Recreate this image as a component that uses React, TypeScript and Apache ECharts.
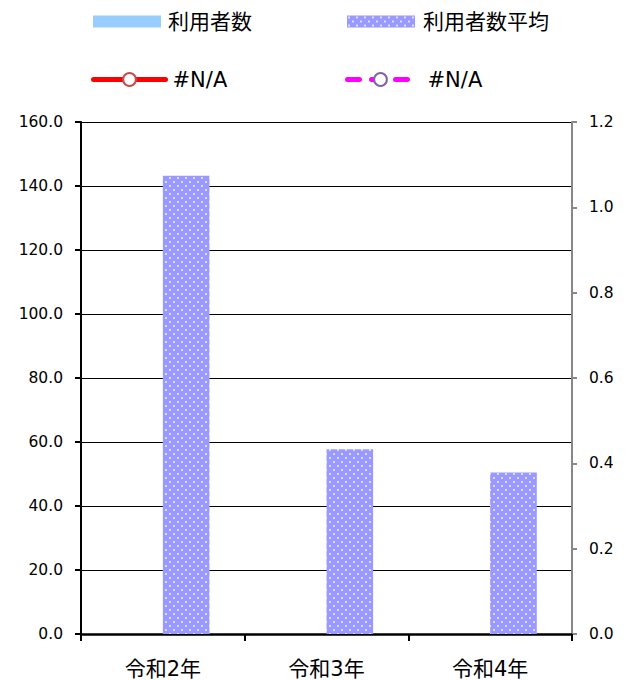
import React, { useEffect, useRef } from "react";
import * as echarts from "echarts";

const categories = ["令和2年", "令和3年", "令和4年"];
const usersValues: (number | null)[] = [null, null, null];
const usersAvgValues = [143.2, 57.7, 50.5];
const naValues1: (number | null)[] = [null, null, null];
const naValues2: (number | null)[] = [null, null, null];
const leftTicks = { min: 0, max: 160, interval: 20 };
const rightTicks = { min: 0, max: 1.2, interval: 0.2 };

const dotSvg =
  "data:image/svg+xml;utf8," +
  encodeURIComponent(
    '<svg xmlns="http://www.w3.org/2000/svg" width="8" height="8">' +
      '<rect width="8" height="8" fill="#9999FF"/>' +
      '<rect x="1" y="1" width="2" height="2" fill="#D0D0FF"/>' +
      '<rect x="1.5" y="1.5" width="1" height="1" fill="#FFFFFF"/>' +
      '<rect x="5" y="5" width="2" height="2" fill="#D0D0FF"/>' +
      '<rect x="5.5" y="5.5" width="1" height="1" fill="#FFFFFF"/>' +
      "</svg>"
  );

const FONT = "'DejaVu Sans', 'Noto Sans CJK JP', sans-serif";

export default function App() {
  const ref = useRef<HTMLDivElement>(null);
  useEffect(() => {
    if (!ref.current) return;
    const chart = echarts.init(ref.current, null, { renderer: "svg" });
    const pattern: any = {
      image: dotSvg,
      repeat: "repeat",
      imageWidth: 8,
      imageHeight: 8,
    };
    const legendText = (pad: number) => ({
      fontSize: 21,
      color: "#000",
      fontFamily: FONT,
      padding: [0, 0, 0, pad],
    });
    const nameFmt = (n: string) => (n.startsWith("na") ? "#N/A" : n);
    chart.setOption({
      animation: false,
      backgroundColor: "#fff",
      legend: [
        {
          data: [{ name: "利用者数", icon: "rect" }],
          left: 93,
          top: 11,
          padding: 0,
          itemWidth: 68,
          itemHeight: 12,
          textStyle: legendText(2),
          formatter: nameFmt,
        },
        {
          data: [{ name: "利用者数平均", icon: "rect" }],
          left: 347,
          top: 11,
          padding: 0,
          itemWidth: 68,
          itemHeight: 12,
          textStyle: legendText(3),
          formatter: nameFmt,
        },
        {
          data: ["na1"],
          left: 91,
          top: 69,
          padding: 0,
          itemWidth: 72,
          itemHeight: 16,
          lineStyle: { width: 5, color: "#FF0000", cap: "round" },
          textStyle: legendText(2),
          formatter: nameFmt,
        },
        {
          data: ["na2"],
          left: 345,
          top: 69,
          padding: 0,
          itemWidth: 66,
          itemHeight: 16,
          lineStyle: { width: 5, color: "#FF00FF", type: [12, 12], cap: "round" },
          textStyle: legendText(9),
          formatter: nameFmt,
        },
      ],
      grid: { left: 81, right: 60, top: 122, bottom: 46, containLabel: false },
      xAxis: {
        type: "category",
        data: categories,
        boundaryGap: true,
        axisLine: { lineStyle: { color: "#000", width: 2.5 } },
        axisTick: { show: true, length: 7, lineStyle: { color: "#000", width: 2 } },
        axisLabel: { fontSize: 21, color: "#000", fontFamily: FONT, margin: 24 },
      },
      yAxis: [
        {
          type: "value",
          min: leftTicks.min,
          max: leftTicks.max,
          interval: leftTicks.interval,
          axisLine: { show: true, lineStyle: { color: "#000", width: 2 } },
          axisTick: { show: true, length: 6, lineStyle: { color: "#000", width: 2 } },
          axisLabel: {
            fontSize: 15.5,
            color: "#000",
            fontFamily: FONT,
            margin: 18,
            formatter: (v: number) => v.toFixed(1),
          },
          splitLine: { show: true, lineStyle: { color: "#000", width: 1 } },
        },
        {
          type: "value",
          position: "right",
          min: rightTicks.min,
          max: rightTicks.max,
          interval: rightTicks.interval,
          axisLine: { show: true, lineStyle: { color: "#888", width: 2 } },
          axisTick: { show: true, length: 5, lineStyle: { color: "#888", width: 2 } },
          axisLabel: {
            fontSize: 15.5,
            color: "#000",
            fontFamily: FONT,
            margin: 17,
            formatter: (v: number) => v.toFixed(1),
          },
          splitLine: { show: false },
        },
      ],
      series: [
        {
          name: "利用者数",
          type: "bar",
          data: usersValues,
          itemStyle: { color: "#99CCFF" },
          barGap: "0%",
          barCategoryGap: "43%",
        },
        {
          name: "利用者数平均",
          type: "bar",
          data: usersAvgValues,
          itemStyle: { color: pattern },
          barGap: "0%",
          barCategoryGap: "43%",
        },
        {
          name: "na1",
          type: "line",
          yAxisIndex: 1,
          data: naValues1,
          symbol: "circle",
          symbolSize: 10,
          lineStyle: { color: "#FF0000", width: 5, cap: "round" },
          itemStyle: { color: "#FFFFFF", borderColor: "#C0504D", borderWidth: 2 },
        },
        {
          name: "na2",
          type: "line",
          yAxisIndex: 1,
          data: naValues2,
          symbol: "circle",
          symbolSize: 10,
          lineStyle: { color: "#FF00FF", width: 5, type: [12, 12], cap: "round" },
          itemStyle: { color: "#FFFFFF", borderColor: "#8064A2", borderWidth: 2 },
        },
      ],
    });
    return () => chart.dispose();
  }, []);
  return (
    <div
      ref={ref}
      style={{ position: "fixed", left: 0, top: 0, width: 632, height: 680 }}
    />
  );
}
